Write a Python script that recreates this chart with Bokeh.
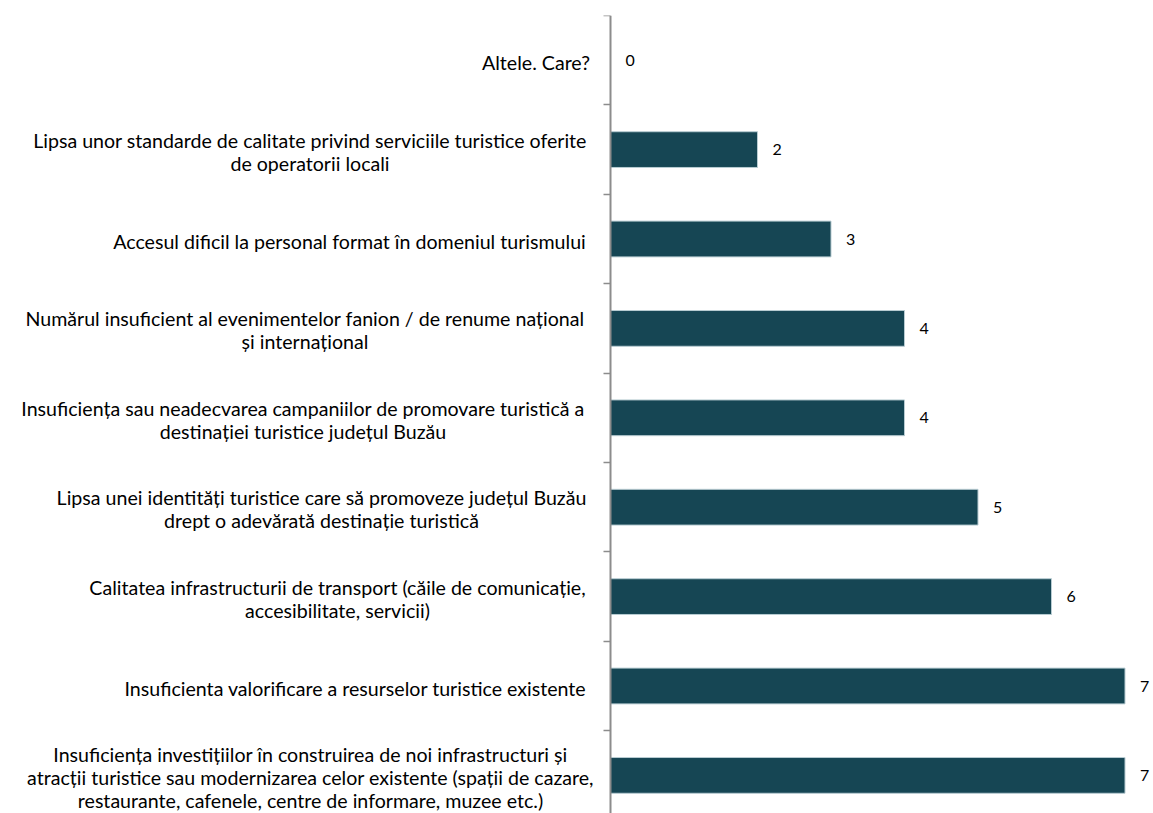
from bokeh.plotting import figure
from bokeh.models import ColumnDataSource, Range1d, LinearAxis, FixedTicker
from bokeh.embed import file_html
from bokeh.resources import INLINE
from bokeh.core.properties import value

categories = [
    "Altele. Care?",
    "Lipsa unor standarde de calitate privind serviciile turistice oferite\nde operatorii locali",
    "Accesul dificil la personal format în domeniul turismului",
    "Numărul insuficient al evenimentelor fanion / de renume național\nși internațional",
    "Insuficiența sau neadecvarea campaniilor de promovare turistică a\ndestinației turistice județul Buzău",
    "Lipsa unei identități turistice care să promoveze județul Buzău\ndrept o adevărată destinație turistică",
    "Calitatea infrastructurii de transport (căile de comunicație,\naccesibilitate, servicii)",
    "Insuficienta valorificare a resurselor turistice existente",
    "Insuficiența investițiilor în construirea de noi infrastructuri și\natracții turistice sau modernizarea celor existente (spații de cazare,\nrestaurante, cafenele, centre de informare, muzee etc.)",
]
counts = [0, 2, 3, 4, 4, 5, 6, 7, 7]

# layout constants (pixels)
AXIS_PX = 610          # x of the value axis on the page
PX_PER_UNIT = 73.5     # width of one count
BAND_PX = 89.4         # height of one category band
LINE_H = 23            # line spacing of the category labels
label_centers_px = [535.5, 309.5, 349, 304.5, 302.5, 321, 337, 355, 310]

n = len(categories)
ypos = [n - 1 - i for i in range(n)]

W, H = 1153, 813
x0 = -AXIS_PX / PX_PER_UNIT
x1 = (W - AXIS_PX) / PX_PER_UNIT
p = figure(width=W, height=H, output_backend="svg", toolbar_location=None,
           x_range=Range1d(x0, x1), y_range=Range1d(8.5 - (H - 15) / BAND_PX, 8.5),
           min_border_left=0, min_border_right=0, min_border_top=15, min_border_bottom=0)
p.xaxis.visible = False
p.yaxis.visible = False
p.grid.visible = False
p.outline_line_color = None
p.background_fill_color = "white"
p.border_fill_color = "white"

src = ColumnDataSource(dict(y=ypos, v=counts, txt=[str(c) for c in counts]))

p.hbar(y="y", left=0, right="v", height=0.4, source=src,
       fill_color="#164654", line_color="#b8ccd2", line_width=1)

ticks = [k + 0.5 for k in range(-1, n)]
ax = LinearAxis(ticker=FixedTicker(ticks=ticks),
                fixed_location=0,
                major_label_overrides={t: "" for t in ticks},
                major_tick_in=0, major_tick_out=7,
                minor_tick_in=0, minor_tick_out=0,
                axis_line_color="#8c8c8c", axis_line_width=2,
                major_tick_line_color="#8c8c8c", major_tick_line_width=1.5)
p.add_layout(ax, "left")

p.text(x="v", y="y", text="txt", source=src, x_offset=15,
       text_baseline="middle", text_align="left",
       text_font=value("Lato"), text_font_size="16px", text_color="#000000")

# one entry per text line so that every line is centred
lx, ly, lt = [], [], []
for cat, y, cpx in zip(categories, ypos, label_centers_px):
    lines = cat.split("\n")
    k = len(lines)
    for i, line in enumerate(lines):
        lx.append((cpx - AXIS_PX) / PX_PER_UNIT)
        ly.append(y + (((k - 1) / 2 - i) * LINE_H - 2) / BAND_PX)
        lt.append(line)
lsrc = ColumnDataSource(dict(x=lx, y=ly, t=lt))
p.text(x="x", y="y", text="t", source=lsrc,
       text_baseline="middle", text_align="center",
       text_font=value("Lato"), text_font_size="19.6px", text_color="#000000")

open("out.html", "w").write(file_html(p, INLINE))
